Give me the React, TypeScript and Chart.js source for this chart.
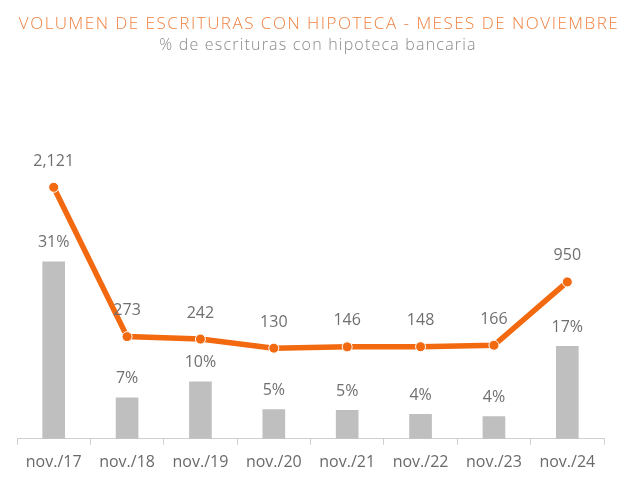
import React, { useEffect, useRef } from "react";
import { Chart, registerables } from "chart.js";

Chart.register(...registerables);

const categories = ["nov./17", "nov./18", "nov./19", "nov./20", "nov./21", "nov./22", "nov./23", "nov./24"];
const mortgageVolume = [2121, 273, 242, 130, 146, 148, 166, 950];
const volumeLabels = ["2,121", "273", "242", "130", "146", "148", "166", "950"];
const bankShare = [31, 7.2, 10, 5.1, 5, 4.3, 3.9, 16.2];
const shareLabels = ["31%", "7%", "10%", "5%", "5%", "4%", "4%", "17%"];

const TITLE = "VOLUMEN DE ESCRITURAS CON HIPOTECA - MESES DE NOVIEMBRE";
const SUBTITLE = "% de escrituras con hipoteca bancaria";

const FONT = "'Open Sans', Lato, sans-serif";
const LABEL_COLOR = "#6f6f6f";

const headerPlugin = {
  id: "header",
  afterDraw(chart: any) {
    const ctx = chart.ctx;
    ctx.save();
    ctx.textAlign = "center";
    ctx.textBaseline = "alphabetic";
    (ctx as any).letterSpacing = "1.5px";
    ctx.font = `300 17px ${FONT}`;
    ctx.fillStyle = "#ef8140";
    ctx.fillText(TITLE, 319, 29);
    (ctx as any).letterSpacing = "1.2px";
    ctx.font = `300 16px ${FONT}`;
    ctx.fillStyle = "#8a8a8a";
    ctx.fillText(SUBTITLE, 318, 50);
    ctx.restore();
  },
};

const valueLabelPlugin = {
  id: "valueLabels",
  afterDatasetsDraw(chart: any) {
    const ctx = chart.ctx;
    ctx.save();
    ctx.font = `16px ${FONT}`;
    ctx.fillStyle = LABEL_COLOR;
    ctx.textAlign = "center";
    ctx.textBaseline = "middle";
    chart.data.datasets.forEach((ds: any, i: number) => {
      const meta = chart.getDatasetMeta(i);
      const texts: string[] = ds.valueTexts;
      const off: number = ds.labelOffset;
      meta.data.forEach((el: any, j: number) => {
        ctx.fillText(texts[j], el.x, el.y - off);
      });
    });
    ctx.restore();
  },
};

export default function App() {
  const ref = useRef<HTMLCanvasElement | null>(null);
  useEffect(() => {
    if (!ref.current) return;
    const chart = new Chart(ref.current, {
      type: "bar",
      data: {
        labels: categories,
        datasets: [
          {
            type: "line",
            data: mortgageVolume,
            yAxisID: "yLine",
            borderColor: "#f2690f",
            backgroundColor: "#f2690f",
            borderWidth: 5.5,
            pointRadius: 5,
            pointBorderColor: "#ffffff",
            pointBorderWidth: 1,
            pointBackgroundColor: "#f2690f",
            tension: 0,
            order: 0,
            valueTexts: volumeLabels,
            labelOffset: 26,
          } as any,
          {
            type: "bar",
            data: bankShare,
            yAxisID: "yBar",
            backgroundColor: "#bfbfbf",
            barThickness: 22,
            order: 1,
            valueTexts: shareLabels,
            labelOffset: 19,
          } as any,
        ],
      },
      options: {
        animation: false,
        responsive: false,
        maintainAspectRatio: false,
        layout: { padding: { left: 17, right: 36, top: 150, bottom: 0 } },
        plugins: {
          legend: { display: false },
          tooltip: { enabled: false },
          title: { display: false },
        },
        scales: {
          x: {
            offset: true,
            grid: {
              offset: true,
              drawOnChartArea: false,
              drawTicks: true,
              tickLength: 6,
              color: "#d0d0d0",
            },
            border: { display: true, color: "#d0d0d0", width: 1 },
            ticks: {
              color: "#6a6a6a",
              font: { family: FONT, size: 16 },
              padding: 8,
              maxRotation: 0,
              autoSkip: false,
            },
          },
          yBar: {
            display: false,
            position: "left",
            min: 0,
            max: 50.6,
          },
          yLine: {
            display: false,
            position: "right",
            min: -992,
            max: 2583,
          },
        },
      },
      plugins: [valueLabelPlugin, headerPlugin],
    });
    return () => chart.destroy();
  }, []);
  return (
    <div style={{ position: "fixed", left: 0, top: 0, width: 640, height: 480, background: "#fff" }}>
      <canvas ref={ref} width={640} height={480} style={{ width: 640, height: 480 }} />
    </div>
  );
}
